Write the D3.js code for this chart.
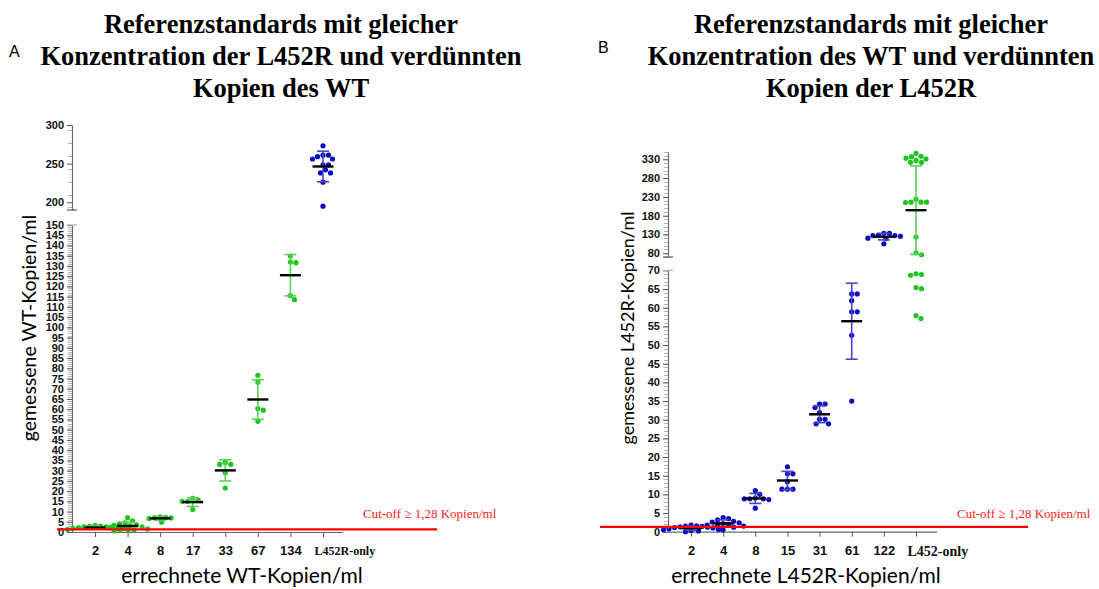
<!DOCTYPE html>
<html>
<head>
<meta charset="utf-8">
<script src="https://cdn.jsdelivr.net/npm/d3@7/dist/d3.min.js"></script>
<style>
  body { margin: 0; background: #fff; }
  svg { display: block; }
</style>
</head>
<body>
<div id="chart"></div>
<script>
// ---- data ----
const titleA = ['Referenzstandards mit gleicher', 'Konzentration der L452R und verdünnten', 'Kopien des WT'];
const titleB = ['Referenzstandards mit gleicher', 'Konzentration des WT und verdünnten', 'Kopien der L452R'];

const categoriesA = ['2', '4', '8', '17', '33', '67', '134', 'L452R-only'];
const seriesColorA = ['g', 'g', 'g', 'g', 'g', 'g', 'g', 'b'];
const valuesA = [
  [3.2, 2.9, 2.8, 2.5, 2.5, 2.4, 2.2, 2.0, 1.8, 1.5, 1.2, 1.0],
  [7.0, 5.5, 4.5, 4.0, 3.5, 3.2, 3.0, 2.5, 2.0, 1.8, 1.5, 1.2, 1.0, 0.5],
  [7.4, 7.2, 7.0, 6.9, 6.6, 4.8],
  [16.5, 15.5, 15.0, 15.0, 11.0],
  [34.0, 33.0, 33.0, 29.0, 21.5],
  [76.6, 73.2, 60.3, 59.5, 54.1],
  [134.8, 131.9, 131.6, 115.5, 113.5],
  [273, 261, 261, 259, 256, 256, 248.5, 248.5, 242, 238, 238, 226, 195]
];

const categoriesB = ['2', '4', '8', '15', '31', '61', '122', 'L452-only'];
const seriesColorB = ['b', 'b', 'b', 'b', 'b', 'b', 'b', 'g'];
const valuesB = [
  [1.8, 1.6, 1.5, 1.4, 1.3, 1.2, 1.1, 1.0, 0.8, 0.6, 0.5, 0.3, 0.2, 0.0],
  [3.8, 3.5, 3.2, 2.8, 2.6, 2.4, 2.2, 2.0, 1.8, 1.6, 1.5, 1.2, 0.5],
  [11.0, 10.0, 9.0, 8.8, 8.8, 8.8, 8.6, 6.3],
  [17.4, 15.5, 15.5, 13.4, 11.4, 11.4, 11.4],
  [34.2, 34.2, 33.3, 31.9, 30.1, 30.1, 28.9, 28.9],
  [63.7, 63.7, 61.9, 58.9, 58.9, 52.6, 35.0],
  [133, 133, 128, 127, 127, 125, 120, 119, 105],
  [346, 338, 337, 333, 331, 327, 322, 322, 224, 216, 216, 216, 215, 123, 81, 76,
   69.1, 68.9, 68.7, 65.4, 65.1, 57.9, 57.1]
];

const ticksLowA = d3.range(0, 151, 5);
const ticksHighA = [200, 250, 300];
const ticksLowB = d3.range(0, 71, 5);
const ticksHighB = [80, 130, 180, 230, 280, 330];

const cutOff = 1.28;
const cutOffLabel = 'Cut-off \u2265 1,28 Kopien/ml';

const colors = { g: '#1ec41e', b: '#0c0cc2' };
const barColors = { g: '#55d455', b: '#4646cc' };

const W = 1099, H = 589;
const svg = d3.select('#chart').append('svg').attr('width', W).attr('height', H);
svg.append('rect').attr('width', W).attr('height', H).attr('fill', '#fff');

const tickFont = "'Liberation Sans Narrow', 'Arial Narrow', 'Liberation Sans', Arial, sans-serif";
const serif = "'Liberation Serif', 'Times New Roman', serif";
const sans = "Lato, 'Open Sans', sans-serif";

function drawPanel(cfg) {
  const g = svg.append('g');

  // broken y scale: two linear pieces
  const yLow = d3.scaleLinear().domain(cfg.lowDomain).range(cfg.lowRange);
  const yHigh = d3.scaleLinear().domain(cfg.highDomain).range(cfg.highRange);
  const brk = cfg.lowDomain[1];
  const y = v => (v > brk ? yHigh(v) : yLow(v));

  const x = d3.scalePoint().domain(cfg.categories).range(cfg.xRange);
  const last = cfg.categories.length - 1;

  // title
  cfg.title.forEach((t, i) => {
    g.append('text').attr('x', cfg.titleX).attr('y', 33 + i * 32)
      .attr('text-anchor', 'middle').attr('font-family', serif).attr('font-weight', 'bold')
      .attr('font-size', 26.5).text(t);
  });
  g.append('text').attr('x', cfg.letterX).attr('y', cfg.letterY)
    .attr('font-family', "'Liberation Sans', Arial, sans-serif").attr('font-size', 16).text(cfg.letter);

  // minor ticks
  const minor = g.append('g').attr('stroke', '#b5b5b5').attr('stroke-width', 1);
  cfg.minorLow.forEach(v => minor.append('line').attr('x1', cfg.axisX - 4).attr('x2', cfg.axisX)
    .attr('y1', Math.round(yLow(v)) + 0.5).attr('y2', Math.round(yLow(v)) + 0.5));
  cfg.minorHigh.forEach(v => minor.append('line').attr('x1', cfg.axisX - 4).attr('x2', cfg.axisX)
    .attr('y1', Math.round(yHigh(v)) + 0.5).attr('y2', Math.round(yHigh(v)) + 0.5));

  // y axis pieces
  [[yLow, cfg.ticksLow], [yHigh, cfg.ticksHigh]].forEach(([sc, tv]) => {
    const ax = g.append('g').attr('transform', 'translate(' + cfg.axisX + ',0)')
      .call(d3.axisLeft(sc).tickValues(tv).tickSize(5).tickSizeOuter(0).tickPadding(3));
    ax.select('.domain').attr('stroke', '#6a6a6a').attr('stroke-width', 1.2);
    ax.selectAll('.tick line').attr('stroke', '#555');
    ax.selectAll('.tick text').attr('font-family', tickFont).attr('font-weight', 'bold')
      .attr('font-size', 11).attr('fill', '#111');
    // break caps at segment ends
    const r = sc.range();
    const endY = sc === yLow ? r[1] : r[0];
    ax.append('line').attr('x1', -5).attr('x2', 5).attr('y1', endY).attr('y2', endY)
      .attr('stroke', sc === yLow ? '#b0b0b0' : '#555').attr('stroke-width', 1.2);
  });

  // x axis
  const xa = g.append('g').attr('transform', 'translate(0,' + cfg.lowRange[0] + ')')
    .call(d3.axisBottom(x).tickSize(5).tickSizeOuter(0).tickPadding(9));
  xa.select('.domain').remove();
  xa.append('line').attr('x1', cfg.axisX).attr('x2', cfg.axisEnd).attr('y1', 0.5).attr('y2', 0.5)
    .attr('stroke', '#6a6a6a').attr('stroke-width', 1.2);
  xa.selectAll('.tick line').attr('stroke', '#555');
  xa.selectAll('.tick text')
    .attr('fill', '#111')
    .attr('font-weight', 'bold')
    .attr('font-family', (d, i) => (i === last ? serif : "'Liberation Sans', Arial, sans-serif"))
    .attr('font-size', (d, i) => (i === last ? cfg.lastLabelSize : 13))
    .attr('text-anchor', (d, i) => (i === last ? 'start' : 'middle'))
    .attr('x', (d, i) => (i === last ? -9 : 0));

  // axis titles
  g.append('text').attr('transform', 'translate(' + cfg.yTitleX + ',' + cfg.yTitleY + ') rotate(-90)')
    .attr('text-anchor', 'middle').attr('font-family', sans).attr('font-size', cfg.yTitleSize).text(cfg.yTitle);
  g.append('text').attr('x', cfg.xTitleX).attr('y', 583)
    .attr('text-anchor', 'middle').attr('font-family', sans).attr('font-size', 21).text(cfg.xTitle);

  // data: swarm points, mean +/- SD
  const r = 2.6;
  cfg.values.forEach((vals, i) => {
    const cx = x(cfg.categories[i]);
    const col = cfg.seriesColor[i];
    const placed = [];
    vals.map(v => ({ v, py: y(v) })).sort((a, b) => a.py - b.py).forEach(p => {
      let off = 0;
      for (let k = 0; k < 400; k++) {
        off = (k % 2 ? 1 : -1) * Math.ceil(k / 2) * 0.5;
        if (placed.every(q => Math.hypot(q.px - off, q.py - p.py) >= 2 * r + 0.3)) break;
      }
      placed.push({ px: off, py: p.py });
    });
    g.append('g').selectAll('circle').data(placed).join('circle')
      .attr('cx', d => cx + d.px).attr('cy', d => d.py).attr('r', r).attr('fill', colors[col]);

    const m = d3.mean(vals), sd = d3.deviation(vals);
    const eb = g.append('g').attr('stroke', barColors[col]).attr('stroke-width', 1.6);
    eb.append('line').attr('x1', cx).attr('x2', cx).attr('y1', y(m + sd)).attr('y2', y(m - sd));
    [m + sd, m - sd].forEach(v => eb.append('line').attr('x1', cx - 6).attr('x2', cx + 6)
      .attr('y1', y(v)).attr('y2', y(v)));
    g.append('line').attr('x1', cx - 10.5).attr('x2', cx + 10.5).attr('y1', y(m)).attr('y2', y(m))
      .attr('stroke', '#000').attr('stroke-width', 2.4);
  });

  // cut-off line
  g.append('line').attr('x1', cfg.cutX[0]).attr('x2', cfg.cutX[1])
    .attr('y1', y(cutOff)).attr('y2', y(cutOff)).attr('stroke', '#ff0000').attr('stroke-width', 2.4);
  g.append('text').attr('x', cfg.cutTextX).attr('y', 518).attr('font-family', serif)
    .attr('font-size', 13).attr('fill', '#ff1a1a').text(cutOffLabel);
}

drawPanel({
  title: titleA, titleX: 281, letter: 'A', letterX: 9, letterY: 57,
  categories: categoriesA, values: valuesA, seriesColor: seriesColorA,
  lowDomain: [0, 150], lowRange: [532, 225], highDomain: [190, 300], highRange: [210, 125],
  ticksLow: ticksLowA, ticksHigh: ticksHighA,
  minorLow: d3.range(0, 151, 1), minorHigh: d3.range(190, 300, 50 / 3).map(v => v + 10 / 3),
  axisX: 72, axisEnd: 343, xRange: [95, 323], lastLabelSize: 12,
  yTitle: 'gemessene WT-Kopien/ml', yTitleX: 36, yTitleY: 328, yTitleSize: 19.5,
  xTitle: 'errechnete WT-Kopien/ml', xTitleX: 242,
  cutX: [57, 437], cutTextX: 363
});

drawPanel({
  title: titleB, titleX: 871, letter: 'B', letterX: 598, letterY: 53,
  categories: categoriesB, values: valuesB, seriesColor: seriesColorB,
  lowDomain: [0, 70], lowRange: [531.7, 270.4], highDomain: [70, 350], highRange: [257, 151.8],
  ticksLow: ticksLowB, ticksHigh: ticksHighB,
  minorLow: d3.range(0, 71, 1), minorHigh: d3.range(70, 351, 10),
  axisX: 668, axisEnd: 937, xRange: [691, 916], lastLabelSize: 14,
  yTitle: 'gemessene L452R-Kopien/ml', yTitleX: 634, yTitleY: 328, yTitleSize: 18,
  xTitle: 'errechnete L452R-Kopien/ml', xTitleX: 806,
  cutX: [600, 1028], cutTextX: 957
});
</script>
</body>
</html>
